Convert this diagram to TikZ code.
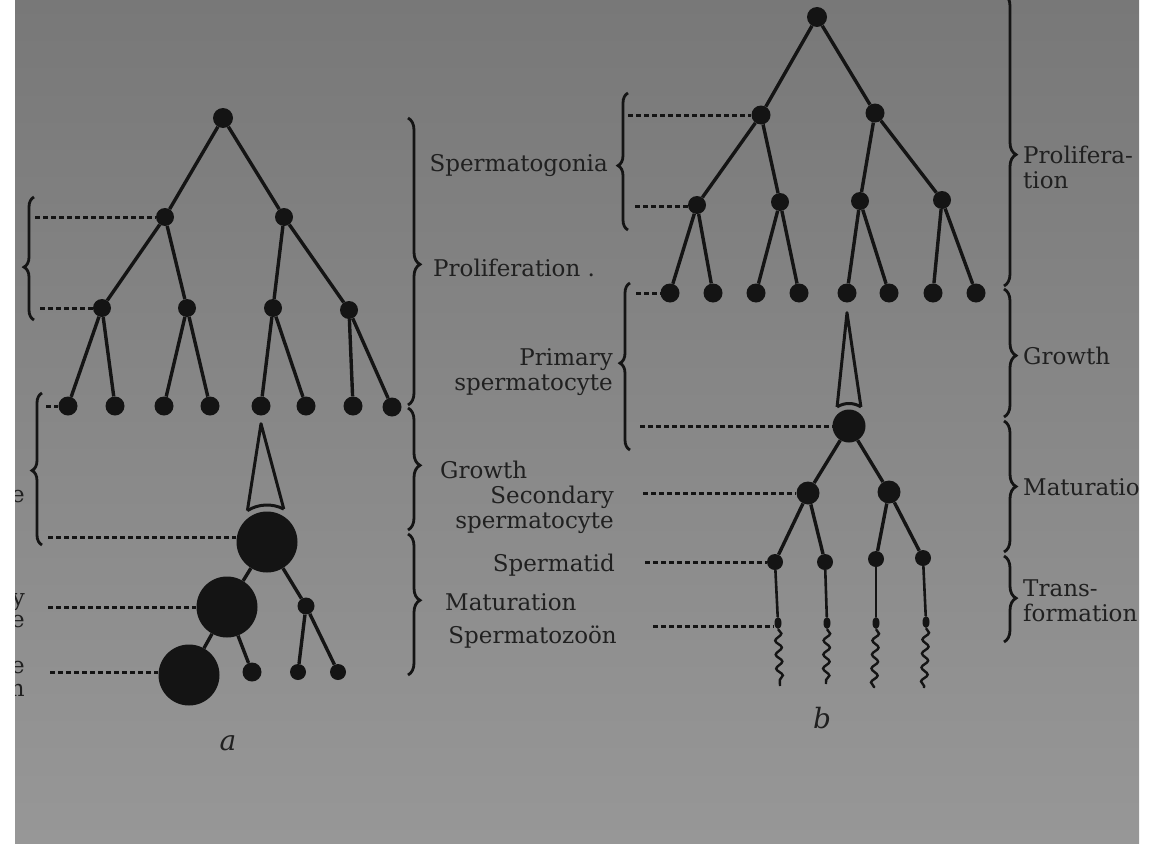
\documentclass[tikz,border=0pt]{standalone}
\usepackage{fontspec}
\setmainfont{DejaVu Serif}
\usetikzlibrary{decorations.pathreplacing,decorations.pathmorphing,shapes.geometric}
\definecolor{ink}{HTML}{141414}
\definecolor{txt}{HTML}{202020}
\definecolor{paperT}{HTML}{787878}
\definecolor{paperB}{HTML}{979797}
\begin{document}
\begin{tikzpicture}[x=1pt,y=-1pt,
  cell/.style={circle,fill=ink,draw=none,inner sep=0pt,minimum size=#1},
  cell/.default=18,
  head/.style={ellipse,fill=ink,inner sep=0pt,minimum width=7pt,minimum height=12pt},
  link/.style={draw=ink,line width=3.4pt},
  stalk/.style={draw=ink,line width=2.6pt},
  cone/.style={draw=ink,line width=3pt,line join=round},
  leader/.style={draw=ink,line width=3pt,dash pattern=on 5pt off 3pt},
  brk/.style={draw=ink,line width=2.8pt,decorate,decoration={brace,amplitude=12pt,aspect=#1}},
  brk/.default=0.5,
  lbrk/.style={draw=ink,line width=2.8pt,decorate,decoration={brace,amplitude=10pt,aspect=#1}},
  lbrk/.default=0.5,
  wig/.style={draw=ink,line width=2.4pt,decorate,decoration={snake,amplitude=3.2pt,segment length=14pt}},
  lab/.style={text=txt,font=\fontsize{23}{25}\selectfont,inner sep=0pt},
  rlab/.style={lab,anchor=east,align=right},
  llab/.style={lab,anchor=west,align=left},
]
\useasboundingbox (0,0) rectangle (1169,843);
\fill[white] (0,0) rectangle (1169,843);
\shade[top color=paperT,bottom color=paperB] (15,0) rectangle (1139,843);
\begin{scope}
\clip (15,0) rectangle (1139,843);

% ---------------- panel a ----------------
\node[cell=20] (a0) at (223,118) {};
\node[cell] (a1) at (165,217) {};
\node[cell] (a2) at (284,217) {};
\node[cell] (a11) at (102,308) {};
\node[cell] (a12) at (187,308) {};
\node[cell] (a21) at (273,308) {};
\node[cell] (a22) at (349,310) {};
\node[cell=19] (a111) at (68,406) {};
\node[cell=19] (a112) at (115,406) {};
\node[cell=19] (a121) at (164,406) {};
\node[cell=19] (a122) at (210,406) {};
\node[cell=19] (a211) at (261,406) {};
\node[cell=19] (a212) at (306,406) {};
\node[cell=19] (a221) at (353,406) {};
\node[cell=19] (a222) at (392,407) {};
\node[cell=61] (aO1) at (267,542) {};
\node[cell=61] (aO2) at (227,607) {};
\node[cell=61] (aO3) at (189,675) {};
\node[cell=17] (aP1) at (306,606) {};
\node[cell=19] (aP0) at (252,672) {};
\node[cell=16] (aP2) at (298,672) {};
\node[cell=16] (aP3) at (338,672) {};

\foreach \p/\c in {a0/a1,a0/a2,a1/a11,a1/a12,a2/a21,a2/a22,
  a11/a111,a11/a112,a12/a121,a12/a122,a21/a211,a21/a212,a22/a221,a22/a222,
  aO1/aO2,aO1/aP1,aO2/aO3,aO2/aP0,aP1/aP2,aP1/aP3}
  \draw[link] (\p) -- (\c);

\path (a211.south) ++(0,8) coordinate (aApex);
\path (aO1) ++(238:37) coordinate (aBL);
\path (aO1) ++(297:37) coordinate (aBR);
\draw[cone] (aBL) -- (aApex) -- (aBR);
\draw[cone] (aBL) arc[start angle=238,end angle=297,radius=37];

\coordinate (lA1) at (35,217);
\coordinate (lA2) at (40,308);
\coordinate (lA3) at (46,406);
\coordinate (lA4) at (48,537);
\coordinate (lA5) at (48,607);
\coordinate (lA6) at (50,672);
\draw[leader] (lA1) -- (lA1 -| a1.west);
\draw[leader] (lA2) -- (lA2 -| a11.west);
\draw[leader] (lA3) -- (lA3 -| a111.west);
\draw[leader] (lA4) -- (lA4 -| aO1.west);
\draw[leader] (lA5) -- (lA5 -| aO2.west);
\draw[leader] (lA6) -- (lA6 -| aO3.west);

\draw[lbrk=0.43] (34,320) -- (34,197);
\draw[lbrk=0.49] (42,545) -- (42,393);

\draw[brk=0.51] (408,118) -- (408,405);
\draw[brk=0.47] (408,408) -- (408,530);
\draw[brk=0.47] (408,534) -- (408,675);

\node[rlab] (fr1) at (25,497) {e};
\node[rlab] (fr2) at (25,602) {y};
\node[rlab] (fr3) at (25,622) {e};
\node[rlab] (fr4) at (25,668) {e};
\node[rlab] (fr5) at (25,690) {n};

\node[lab,font=\fontsize{28}{30}\selectfont\itshape] (capA) at (228,743) {a};

% ---------------- middle labels ----------------
\node[rlab] (tSpg) at (608,166) {Spermatogonia};
\node[llab] (tProlA) at (433,268) {Proliferation .};
\node[rlab] (tPrim) at (613,372) {Primary\\spermatocyte};
\node[llab] (tGrowA) at (440,470) {Growth};
\node[rlab] (tSec) at (614,510) {Secondary\\spermatocyte};
\node[rlab] (tTid) at (615,565) {Spermatid};
\node[llab] (tMatA) at (445,602) {Maturation};
\node[rlab] (tZoon) at (617,637) {Spermatozoön};

% ---------------- panel b ----------------
\node[cell=20] (b0) at (817,17) {};
\node[cell=19] (b1) at (761,115) {};
\node[cell=19] (b2) at (875,113) {};
\node[cell] (b11) at (697,205) {};
\node[cell] (b12) at (780,202) {};
\node[cell] (b21) at (860,201) {};
\node[cell] (b22) at (942,200) {};
\node[cell=19] (b111) at (670,293) {};
\node[cell=19] (b112) at (713,293) {};
\node[cell=19] (b121) at (756,293) {};
\node[cell=19] (b122) at (799,293) {};
\node[cell=19] (b211) at (847,293) {};
\node[cell=19] (b212) at (889,293) {};
\node[cell=19] (b221) at (933,293) {};
\node[cell=19] (b222) at (976,293) {};
\node[cell=33] (bO1) at (849,426) {};
\node[cell=23] (bS1) at (808,493) {};
\node[cell=23] (bS2) at (889,492) {};
\node[cell=16] (bT1) at (775,562) {};
\node[cell=16] (bT2) at (825,562) {};
\node[cell=16] (bT3) at (876,559) {};
\node[cell=16] (bT4) at (923,558) {};
\node[head] (bZ1) at (778,623) {};
\node[head] (bZ2) at (827,623) {};
\node[head] (bZ3) at (876,623) {};
\node[head] (bZ4) at (926,622) {};

\foreach \p/\c in {b0/b1,b0/b2,b1/b11,b1/b12,b2/b21,b2/b22,
  b11/b111,b11/b112,b12/b121,b12/b122,b21/b211,b21/b212,b22/b221,b22/b222,
  bO1/bS1,bO1/bS2,bS1/bT1,bS1/bT2,bS2/bT3,bS2/bT4}
  \draw[link] (\p) -- (\c);
\foreach \p/\c in {bT1/bZ1,bT2/bZ2,bT3/bZ3,bT4/bZ4}
  \draw[stalk] (\p) -- (\c);

\coordinate (bE1) at (780,686);
\coordinate (bE2) at (826,684);
\coordinate (bE3) at (874,688);
\coordinate (bE4) at (924,688);
\draw[wig] (bZ1.south) -- (bE1);
\draw[wig] (bZ2.south) -- (bE2);
\draw[wig] (bZ3.south) -- (bE3);
\draw[wig] (bZ4.south) -- (bE4);

\path (b211.south) ++(0,10) coordinate (bApex);
\path (bO1) ++(238:22.5) coordinate (bBL);
\path (bO1) ++(302:22.5) coordinate (bBR);
\draw[cone] (bBL) -- (bApex) -- (bBR);
\draw[cone] (bBL) arc[start angle=238,end angle=302,radius=22.5];

\coordinate (lB1) at (628,115);
\coordinate (lB2) at (635,206);
\coordinate (lB3) at (636,293);
\coordinate (lB4) at (640,426);
\coordinate (lB5) at (643,493);
\coordinate (lB6) at (645,562);
\coordinate (lB7) at (653,626);
\draw[leader] (lB1) -- (lB1 -| b1.west);
\draw[leader] (lB2) -- (lB2 -| b11.west);
\draw[leader] (lB3) -- (lB3 -| b111.west);
\draw[leader] (lB4) -- (lB4 -| bO1.west);
\draw[leader] (lB5) -- (lB5 -| bS1.west);
\draw[leader] (lB6) -- (lB6 -| bT1.west);
\draw[leader] (lB7) -- (lB7 -| bZ1.west);

\draw[lbrk=0.47] (628,230) -- (628,93);
\draw[lbrk=0.52] (630,450) -- (630,283);

\draw[brk=0.55] (1004,-6) -- (1004,286);
\draw[brk=0.52] (1004,289) -- (1004,417);
\draw[brk=0.50] (1004,421) -- (1004,552);
\draw[brk=0.49] (1004,556) -- (1004,642);

\node[llab] (rProl) at (1023,167) {Prolifera-\\tion};
\node[llab] (rGrow) at (1023,356) {Growth};
\node[llab] (rMat) at (1023,487) {Maturation};
\node[llab] (rTrans) at (1023,601) {Trans-\\formation};

\node[lab,font=\fontsize{28}{30}\selectfont\itshape] (capB) at (822,718) {b};
\end{scope}
\end{tikzpicture}
\end{document}
